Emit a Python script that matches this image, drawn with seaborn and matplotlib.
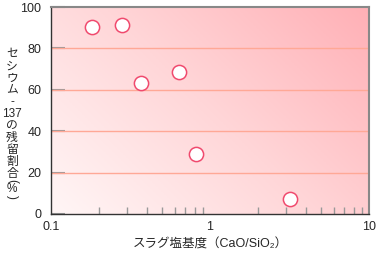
import numpy as np
import pandas as pd
import matplotlib
matplotlib.use("Agg")
import matplotlib.pyplot as plt
import seaborn as sns
from matplotlib.colors import LinearSegmentedColormap
from matplotlib.ticker import LogLocator, NullFormatter, FixedLocator, FixedFormatter

basicity = [0.18, 0.28, 0.37, 0.64, 0.82, 3.2]
residual = [90.5, 91.5, 63.5, 68.5, 29.0, 7.2]
yticks = [0, 20, 40, 60, 80, 100]
xticks = [0.1, 1, 10]
xticklabels = ["0.1", "1", "10"]
ylabel_chars = ["セ", "シ", "ウ", "ム", "-", "137", "の", "残", "留", "割", "合", "(", "%", ")"]
xlabel = "スラグ塩基度（CaO/SiO₂）"

sns.set_theme(style="white")
plt.rcParams['font.family'] = ['Liberation Sans', 'Noto Sans CJK JP', 'DejaVu Sans']

df = pd.DataFrame({"basicity": basicity, "residual": residual})

fig = plt.figure(figsize=(3.77, 2.54), dpi=100)
ax = fig.add_axes([51/377, 40/254, 318/377, 207/254])

# gradient background
n = 200
xx, yy = np.meshgrid(np.linspace(0, 1, n), np.linspace(0, 1, n))
g = (xx * 0.6 + yy * 0.4)
cmap = LinearSegmentedColormap.from_list("pinkgrad", ["#fff6f6", "#ffd6d8", "#ffb0b6"])
ax.imshow(g, extent=[0, 1, 0, 1], transform=ax.transAxes, origin="lower",
          cmap=cmap, aspect="auto", zorder=0, interpolation="bilinear")

ax.set_xscale("log")
ax.set_xlim(0.1, 10)
ax.set_ylim(0, 100)

for yv in yticks[1:-1]:
    ax.axhline(yv, color="#ffa896", lw=1.0, zorder=1)

sns.scatterplot(data=df, x="basicity", y="residual", ax=ax, s=105,
                facecolor="white", edgecolor="#f04a6e", linewidth=1.1, zorder=3)

ax.xaxis.set_major_locator(FixedLocator(xticks))
ax.xaxis.set_major_formatter(FixedFormatter(xticklabels))
ax.xaxis.set_minor_locator(LogLocator(base=10, subs=np.arange(2, 10)))
ax.xaxis.set_minor_formatter(NullFormatter())
ax.set_yticks(yticks)
ax.set_yticklabels([str(v) for v in yticks])

ax.tick_params(axis="x", which="both", direction="in", length=5, width=1,
               color="#999999", labelsize=9, pad=5, top=False, bottom=True)
ax.tick_params(axis="x", which="major", length=0)
ax.tick_params(axis="y", which="major", direction="in", length=10, width=1.5,
               color="#999999", labelsize=9, pad=7, left=True)

for side in ["left", "bottom"]:
    ax.spines[side].set_color("#333333")
    ax.spines[side].set_linewidth(1.0)
for side in ["top", "right"]:
    ax.spines[side].set_color("#888888")
    ax.spines[side].set_linewidth(1.5)

ax.set_xlabel(xlabel, fontsize=9, labelpad=4)
ax.set_ylabel("")

# vertical (tategaki) y label, one glyph group per position
ypix = [54, 67, 79, 90, 102, 114, 126, 138, 150, 162, 174, 181, 189, 197]
for ch, yp in zip(ylabel_chars, ypix):
    rot = -90 if ch in "()" else 0
    fig.text(12/377, 1 - yp/254, ch, fontsize=8.5, rotation=rot,
             ha="center", va="center")

fig.savefig("out.png", dpi=100)
